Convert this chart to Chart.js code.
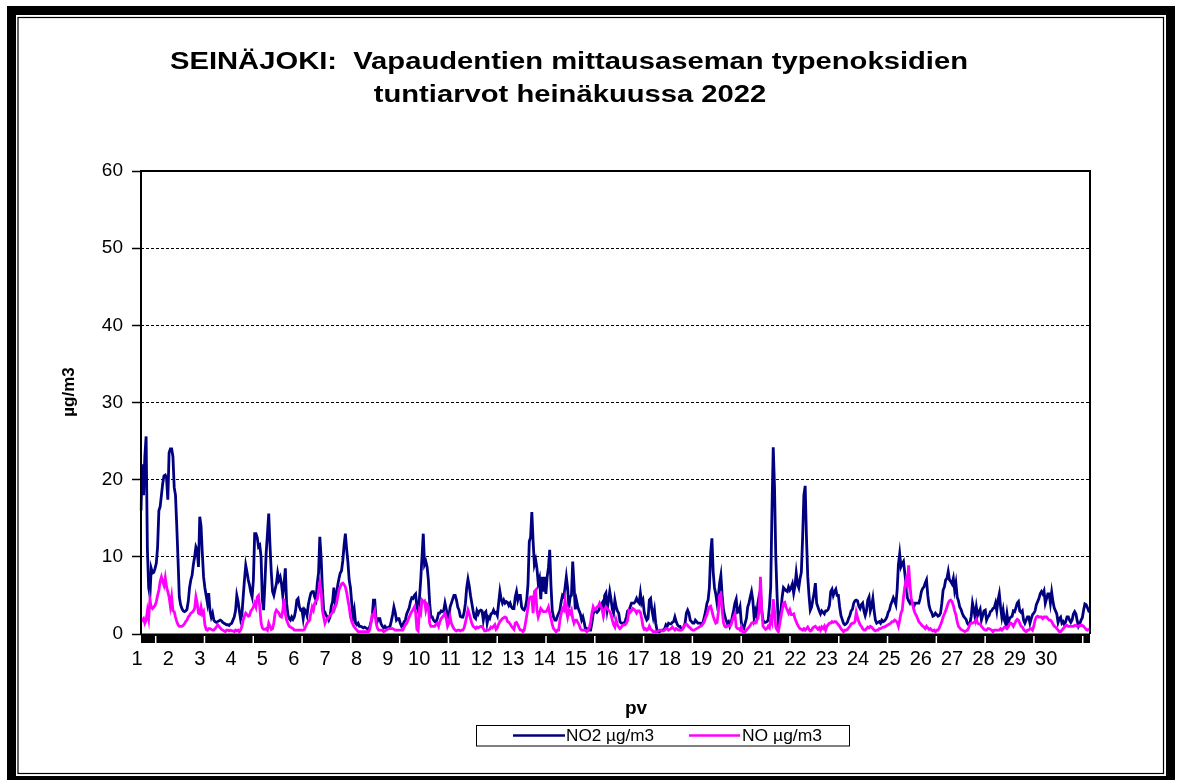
<!DOCTYPE html>
<html>
<head>
<meta charset="utf-8">
<script src="https://cdn.jsdelivr.net/npm/chart.js@4.4.1/dist/chart.umd.min.js"></script>
<style>
html,body{margin:0;padding:0;background:#fff;}
canvas{display:block;}
</style>
</head>
<body>
<canvas id="c" width="1181" height="780"></canvas>
<script>
// ---------- text ----------
const TITLE_LINES = ["SEINÄJOKI:  Vapaudentien mittausaseman typenoksidien", "tuntiarvot heinäkuussa 2022"];
const X_TITLE = "pv";
const Y_TITLE = "µg/m3";
const SERIES_NAMES = ["NO2 µg/m3", "NO µg/m3"];
const DAY_LABELS = [1,2,3,4,5,6,7,8,9,10,11,12,13,14,15,16,17,18,19,20,21,22,23,24,25,26,27,28,29,30];
const Y_TICKS = [0,10,20,30,40,50,60];

// ---------- hourly values, July 2022 (24 per row = one day) ----------
const NO2 = [
16,22,18,23,25.6,11,6,5,8.5,7.9,8,8.5,9.2,11.3,16,16.5,18,19.5,20.5,20.6,20.2,17.4,23.5,24,
24,23,19,18,14,9.6,4.8,3.8,3.3,3,2.9,3,3.2,4.2,6,7,7.6,9,10,11.3,10.9,8.7,15.2,14,
10.5,7.4,6,5,4,5.3,3,2.2,2.7,1.8,1.6,1.5,1.6,1.7,1.8,1.7,1.5,1.4,1.3,1.2,1.2,1.1,1.3,1.4,
1.8,2.2,3,5,4.2,3,1.9,2.5,4.8,7,8.9,8,7,6.3,5.4,4.8,7,13,13,12.5,11.3,11.5,10,4.5,
3.1,6.5,10.5,13,15.6,11.5,8,5.5,5,5.8,6.5,7.9,7,7.4,6.5,5,6.5,8.5,4,2.5,2,1.8,2.2,1.9,
2.2,3,4.4,4.6,3.5,3.1,3.2,2,3.2,3,2.4,3.8,4.6,5.3,5.5,5.5,4.8,4.4,6.6,7.9,12.6,10,6,3.1,
2.8,2.4,2.2,1.8,2.2,3.6,4.2,6,4,5,6.3,7.2,7.9,8.2,9.5,11.5,13,11,9.3,7,6,4,2.2,3.1,
1.4,1.2,1.4,1,1,0.9,0.8,0.9,0.8,0.7,0.5,0.9,1.5,2.2,4.4,4.4,2,1.6,2,2,1.3,1,0.8,1,
0.8,0.8,0.9,1,1.7,2.5,3.5,2.8,1.8,2,2,1.4,1,1.2,1.6,1.8,2.6,3,3.4,4.2,4.7,4.6,5,5.2,
3.5,3,4.6,7,10,13,9,9.4,8.7,7,4,2.2,2.2,1.8,1.6,1.6,2,2.7,2.7,3,2.9,3,4,3.2,
2.2,2.1,3.5,4,4.5,5,5,4.4,3.5,3.1,2.3,2.2,2.2,2.8,4,6,7.1,6.2,5,4,3,2.2,2,3,
2.6,3,3.1,3,1.8,2.7,2.9,1.4,2.2,2,2.6,2.7,3.1,2.7,2.8,2.4,4,5.5,4.5,4,4.4,4,4.2,4.1,
3.7,4,3.5,3.3,3.3,4.8,5.5,4.4,5,5,3.5,3.2,3.1,3.5,4.4,6.5,12,12.5,15.8,12,9,9.6,8.5,6.6,
7.2,4.5,7.4,5.5,7.4,5.2,7.4,8.6,10.9,6.2,3,2.2,1.8,1.8,2.3,2.7,3.1,4.2,5,4.8,6,7.4,6,3.4,
4.8,5,9.4,6.5,3.2,4.3,3.5,3,2.6,1.8,2.2,1.5,0.6,0.7,0.5,0.5,0.5,1.4,2.6,3,3,2.8,3,3.3,
3.7,4,3,5,5.3,3.2,4.3,5.5,4.5,3.2,2.7,4.4,3.5,3,2.7,1.6,1.4,1.4,1.4,1.6,2.2,3,3.1,3.5,
4,4,4,4.2,4.6,4.2,4,5.3,4,4.4,2.8,2.2,1.8,2,4.4,4.6,3.1,2.2,3.1,1.4,0.5,0.3,0.3,0.4,
0.5,0.5,0.7,1.2,1,1.4,1.3,1.3,1.5,1.6,2.2,1.6,1.2,1,1,0.6,0.7,0.9,1.4,2.7,3.1,2.7,1.8,1.6,
1.4,1.4,1.8,1.6,1.4,1.4,1.4,1.2,1.5,2.2,2.9,3.9,4.4,6,10.5,12.4,8,6,5.2,4,4.8,6.6,7.6,5,
3.2,2.4,1.8,1.4,1.6,1,1.5,2.3,3.1,4,4.5,2.8,2.9,3.5,1.5,0.8,0.7,1.4,2,3.5,4,4.8,5.5,4.4,
2.2,3,2.3,4,5,5.7,3,1.8,1.5,1.5,1.6,1.8,3.5,6,16,24.2,19,10,5,1.4,2,3,4.8,6,
5.8,5.6,5.5,6.1,5.7,6,6.5,5.3,6.2,7.9,6.5,6,7.2,8,12.5,18,19.2,12.6,7.5,5,3.1,3.5,4.4,5.3,
6.6,4,3.5,3,2.6,3,2.8,2.6,3,3,3.2,3.7,5.5,5.8,5,5.5,5.8,5,5,3.5,2.4,1.9,1.4,1.2,
1.3,1.5,2,2.4,3,3.2,4,4.3,4.4,4.3,3.6,3.3,3.8,4,3,2.4,3,4.4,4.8,3,3.6,4.6,3,1.8,
1.4,1.5,1.6,1.4,1.8,1.6,1.7,1.9,2.2,2.8,3.1,3.8,4.2,4.7,4.3,3.8,5.7,9,10.4,8.7,9.1,9.4,7.9,6.4,
4.7,4.3,4,4.4,4,3.5,4,4,4,4,4.6,5.5,5.9,6.1,6.6,7,5,3.7,3.1,2.8,2.3,2.4,2.7,2.5,
2.3,2.4,2.7,4,5.7,6.1,7,7.2,8.1,7,6.8,6.5,7.2,5.7,6.6,4.8,4.3,3.5,3.2,2.7,2.3,2.1,1.9,1.4,
1.2,1.4,2.3,4,3.2,2.2,3.5,2.4,2.8,3.2,1.8,2.4,3,3.1,1.8,2.2,2.4,2.9,3,3.3,3.4,4,3,4.4,
5.2,3.5,2.2,3.1,1.8,1.3,2.6,1.4,2,2.2,2.3,3,2.9,3.4,4,4.2,3,2.8,3,1.8,1.4,1.8,2.2,2.2,
1.4,2,2.5,2.7,3,3.8,4.2,4.6,5.2,5.5,5.2,5.6,4,4.6,5.2,5.2,4,5.4,4.2,3.4,3,2.6,1.5,2,
2.2,1.4,1.6,1.2,1.6,2.2,2.2,1.8,1.5,1.8,2.6,2.9,2.6,1.7,1,1.3,1.8,2.1,3.1,3.9,3.8,3.4,3,3.1
];
const NO = [
2,1.8,2,1.4,1.8,3,2,4.4,3.5,3.3,3.5,3.7,4.2,5,5.7,6.8,7.4,6.8,6.3,7.3,6.1,5.5,4.8,3.6,
4.8,3,2.9,2.2,1.6,1.2,1,1,1,1.1,1.3,1.6,1.8,2.2,2.4,2.7,2.8,3,3.3,4.8,4,2.7,2.6,3.5,
2.6,2.9,1.2,0.6,0.5,0.7,0.7,0.6,0.5,0.5,0.7,0.9,1.2,1,0.8,0.6,0.5,0.4,0.3,0.5,0.5,0.4,0.5,0.4,
0.4,0.3,0.5,0.4,0.5,0.3,0.5,1,1.8,2.3,2.7,2.5,2.3,2.4,3,3.2,3.5,4,3.5,4.8,5,3.5,1.5,0.8,
0.6,0.6,0.7,0.5,1.4,1,0.6,0.7,1.4,2.7,3.1,2.9,2.7,2.3,2.2,3,4.6,2.6,1.8,1.4,1,0.9,0.8,0.7,
0.5,0.5,0.5,0.5,0.5,0.5,0.5,0.5,0.6,1,1.4,1.6,1.8,2.7,3.5,3.1,4,4.3,4.5,5.5,6.6,5.6,3.1,2.2,
1.4,1.8,2,2.2,2.4,2.6,2.8,3.5,3.5,3.9,4.8,5.7,6.1,6.5,6.6,6.4,6.1,5.4,4.4,3.5,2.2,1.6,1.2,0.9,
0.7,0.5,0.3,0.3,0.3,0.3,0.3,0.3,0.3,0.3,0.3,0.5,1.4,2.5,2.5,3,1.5,0.8,0.5,0.5,0.5,0.5,0.3,0.4,
0.5,0.6,0.7,0.7,0.7,0.7,0.6,0.5,0.5,0.5,0.5,0.5,0.5,0.5,0.9,1.2,1.4,1.8,2.2,2.6,2.9,3.2,3.5,2.8,
0.6,0.4,3.1,2.7,4.4,4.2,4.3,3.1,3.8,3.5,1.4,1,1,1,1,1.3,1.4,1,1.6,2,2.2,2.4,2.7,2,
1,1.4,2.2,1.4,1,0.7,0.5,0.4,0.5,0.5,0.4,0.5,0.5,0.8,1.5,2.3,3.1,2.6,2,1.4,1,0.9,0.7,0.9,
0.8,0.9,1,1,0.7,0.4,0.4,0.5,0.5,0.6,0.9,0.8,1,1.2,0.6,0.8,1.3,1.6,1.8,2,2.1,2.2,2.1,1.6,
1.5,1.3,1,0.8,0.6,1.4,1.5,1.2,0.8,0.5,0.5,0.3,0.5,1.4,2.4,3.5,4.6,4.8,4.8,2.7,5.5,5.7,3.1,2.2,
2.7,3.3,3.1,2.9,2.9,2.9,3.1,3.5,2.7,2,1.2,0.7,0.5,0.3,0.5,0.5,1.8,2.7,3.3,3.1,4.4,3,2.2,3.1,
2.7,3.1,2,1.4,1.8,1.8,1.5,1.2,0.7,0.5,0.5,0.5,0.5,0.3,0.5,0.8,1.5,2.7,3.5,3.1,3.2,3.5,3.6,4,
3.6,3.2,2.3,3.1,3.5,3.3,3.1,2.9,2.5,1.8,1.2,0.9,1.8,1.2,0.9,0.7,0.9,1.1,1.2,1.2,1.4,1.8,3,2.8,
3,3.3,3.2,3,2.7,3,3,2.8,2,1,0.6,0.7,0.5,0.6,1,0.6,0.5,0.3,0.3,0.3,0.3,0.4,0.5,0.5,
0.4,0.4,0.5,0.7,0.7,0.5,0.6,0.7,0.9,0.7,0.5,0.7,0.6,0.5,0.5,0.5,0.6,1,1.2,1.3,1.1,0.9,0.8,0.6,
0.5,0.5,0.6,0.7,0.8,0.9,1,1.1,1.3,1.6,2.1,2.5,3.1,3.5,3.6,3,2.3,1.8,1.4,1.5,2.8,5,5.2,3,
1.5,1,0.9,1,1.1,1,1.2,1.8,2.2,2.6,0.9,0.7,0.7,0.5,0.9,0.3,0.1,0.3,0.5,0.7,0.9,1.1,1.4,1.5,
1.4,1.4,1.8,2,3.1,7.4,3.1,1,0.8,0.6,0.7,1,0.8,2,1.5,4.5,3,0.9,0.5,0.3,1.2,2.2,3.1,4,
4.1,3.5,3.1,2.7,3.1,2.5,2.5,2.6,2,1.6,1.2,0.9,0.7,0.6,0.5,0.7,0.5,0.7,0.9,0.6,0.4,0.5,0.8,0.9,
1,0.8,0.6,0.8,0.5,0.9,0.7,1,0.5,1,1.2,1.4,1.4,1.6,1.5,1.6,1.6,1.4,1.2,1,0.7,0.5,0.3,0.5,
0.5,0.6,0.8,1,1.3,1.4,1.4,1.6,2.8,2.1,1.6,1.2,1,0.7,0.5,0.5,0.7,0.9,0.8,1,0.9,0.7,0.5,0.4,
0.5,0.5,0.7,0.7,0.8,0.9,0.9,1,1.1,1.2,1.3,1.4,1.6,1.6,1.8,1.7,1.5,1,1.8,2.7,3.1,4.8,6.1,7,
6.3,8.9,6.5,4.6,4,3.2,2.7,2.4,2,1.6,1.4,1.2,1,0.9,0.7,1,0.8,0.6,0.7,0.5,0.4,0.5,0.3,0.5,
0.5,0.8,1.2,1.6,2.2,2.6,3,3.5,4,4.3,4.4,4.2,3.7,3,2.5,1.6,1,0.8,0.6,0.5,0.4,0.3,0.4,0.5,
0.8,1.3,1.4,1.4,1.5,1.6,1.9,1.4,1.3,1.3,1,0.8,0.6,0.5,0.5,0.7,0.7,0.6,0.5,0.3,0.5,0.5,0.5,0.5,
0.5,0.7,0.5,0.7,0.9,0.9,0.7,0.9,1.3,1.4,1.3,1,1.3,1.7,1.9,1.8,1.4,1,0.9,0.6,0.4,0.3,0.5,0.5,
0.7,0.7,0.5,1,1.8,2.2,2.3,2.2,2.2,2.2,2,2.2,2.2,2.2,2,1.8,1.8,1.6,1.3,1,0.9,0.7,0.5,0.3,
0.3,0.5,0.7,0.9,1.1,1.1,1,1,1,1,1,1.1,1.1,1,1,1.1,1.1,1.1,1,0.8,0.6,0.5,0.6,0.7
];

// hourly category labels (day.month hour)
const HOURS = [];
for (let d = 1; d <= 31; d++) for (let h = 0; h < 24; h++) HOURS.push(d + '.7. ' + h + ':00');

const FONT = '"Liberation Sans", Arial, sans-serif';

function drawText(ctx, s, x, y, font, align, targetW) {
  ctx.save();
  ctx.font = font;
  ctx.textBaseline = 'alphabetic';
  const w = ctx.measureText(s).width;
  const sx = targetW ? targetW / w : 1;
  ctx.translate(x, y);
  ctx.scale(sx, 1);
  ctx.textAlign = align;
  ctx.fillText(s, 0, 0);
  ctx.restore();
}

const deco = {
  id: 'deco',
  beforeDraw(chart) {
    const {ctx, chartArea: a} = chart;
    ctx.save();
    ctx.fillStyle = '#fff';
    ctx.fillRect(0, 0, chart.width, chart.height);
    // outer frame
    ctx.fillStyle = '#000';
    ctx.fillRect(7, 6, 1168, 9);
    ctx.fillRect(7, 6, 9, 790);
    ctx.fillRect(1166, 6, 9, 790);
    ctx.fillRect(7, 776, 1168, 10);
    ctx.strokeStyle = '#000';
    ctx.lineWidth = 1.2;
    ctx.strokeRect(18, 17.5, 1145.5, 756);
    // x axis band
    ctx.fillRect(a.left, a.bottom - 0.5, a.right - a.left, 9.5);
    ctx.restore();
  },
  afterDraw(chart) {
    const {ctx, chartArea: a} = chart;
    ctx.save();
    // white marks in the axis band
    ctx.strokeStyle = '#fff';
    ctx.lineWidth = 1.5;
    for (let k = 0; k < 20; k++) {
      const x = a.left + 14.7 + k * 48.79;
      ctx.beginPath(); ctx.moveTo(x, a.bottom + 2); ctx.lineTo(x, a.bottom + 9); ctx.stroke();
    }
    // plot frame
    ctx.strokeStyle = '#000';
    ctx.lineWidth = 2;
    ctx.beginPath();
    ctx.moveTo(a.left, a.bottom);
    ctx.lineTo(a.left, a.top);
    ctx.lineTo(a.right, a.top);
    ctx.lineTo(a.right, a.bottom);
    ctx.stroke();
    ctx.fillStyle = '#000';
    // title
    drawText(ctx, TITLE_LINES[0], 569, 68.5, 'bold 23px ' + FONT, 'center', 798);
    ctx.save();
    ctx.font = 'bold 23px ' + FONT;
    const sx = 798 / ctx.measureText(TITLE_LINES[0]).width;
    const w2 = ctx.measureText(TITLE_LINES[1]).width * sx;
    ctx.restore();
    drawText(ctx, TITLE_LINES[1], 570, 102, 'bold 23px ' + FONT, 'center', w2);
    // y title
    ctx.save();
    ctx.translate(74, 392);
    ctx.rotate(-Math.PI / 2);
    ctx.font = 'bold 17px ' + FONT;
    ctx.textAlign = 'center';
    ctx.textBaseline = 'alphabetic';
    ctx.fillText(Y_TITLE, 0, 0);
    ctx.restore();
    // x title
    drawText(ctx, X_TITLE, 636, 713.5, 'bold 19px ' + FONT, 'center');
    // legend
    ctx.strokeStyle = '#000';
    ctx.lineWidth = 1;
    ctx.strokeRect(476.5, 725.5, 373, 20.5);
    const cols = ['#000080', '#FF00FF'];
    const lx = [[513, 565, 566, 88], [689, 740, 742, 80]];
    for (let i = 0; i < 2; i++) {
      ctx.strokeStyle = cols[i];
      ctx.lineWidth = 2.5;
      ctx.beginPath(); ctx.moveTo(lx[i][0], 735.5); ctx.lineTo(lx[i][1], 735.5); ctx.stroke();
      ctx.fillStyle = '#000';
      drawText(ctx, SERIES_NAMES[i], lx[i][2], 741, '16px ' + FONT, 'left', lx[i][3]);
    }
    ctx.restore();
  }
};

new Chart(document.getElementById('c').getContext('2d'), {
  type: 'line',
  data: {
    labels: HOURS,
    datasets: [
      {label: SERIES_NAMES[0], data: NO2, borderColor: '#000080', backgroundColor: '#000080',
       borderWidth: 2.8, pointRadius: 0, tension: 0, order: 2, xAxisID: 'x', yAxisID: 'y'},
      {label: SERIES_NAMES[1], data: NO, borderColor: '#FF00FF', backgroundColor: '#FF00FF',
       borderWidth: 2.8, pointRadius: 0, tension: 0, order: 1, xAxisID: 'x', yAxisID: 'y'}
    ]
  },
  options: {
    responsive: false,
    animation: false,
    devicePixelRatio: 1,
    layout: {padding: {left: 48, right: 91, top: 171, bottom: 0}},
    plugins: {legend: {display: false}, title: {display: false}, tooltip: {enabled: false}},
    scales: {
      x: {type: 'category', display: false, offset: false},
      days: {
        type: 'linear', position: 'bottom',
        min: 1 + 4 / 31.35, max: 1 + 953 / 31.35,
        afterBuildTicks: ax => { ax.ticks = DAY_LABELS.map(v => ({value: v})); },
        grid: {display: false, drawTicks: false},
        border: {display: false},
        ticks: {padding: 13.5, color: '#000', font: {family: FONT, size: 20}, maxRotation: 0, autoSkip: false,
                callback: v => String(v)},
        afterFit: s => { s.height = 780 - 634; }
      },
      y: {
        min: 0, max: 60,
        afterBuildTicks: ax => { ax.ticks = Y_TICKS.map(v => ({value: v})); },
        ticks: {padding: 9, color: '#000', font: {family: FONT, size: 19}},
        grid: {
          color: c => (c.tick && (c.tick.value === 0 || c.tick.value === 60)) ? 'rgba(0,0,0,0)' : '#000',
          lineWidth: 1, tickColor: '#000', tickLength: 9, tickWidth: 1.5, tickBorderDash: [],
          borderDash: [3, 2]
        },
        border: {display: false, dash: [3, 2]},
        afterFit: s => { s.width = 93; }
      }
    }
  },
  plugins: [deco]
});
</script>
</body>
</html>
